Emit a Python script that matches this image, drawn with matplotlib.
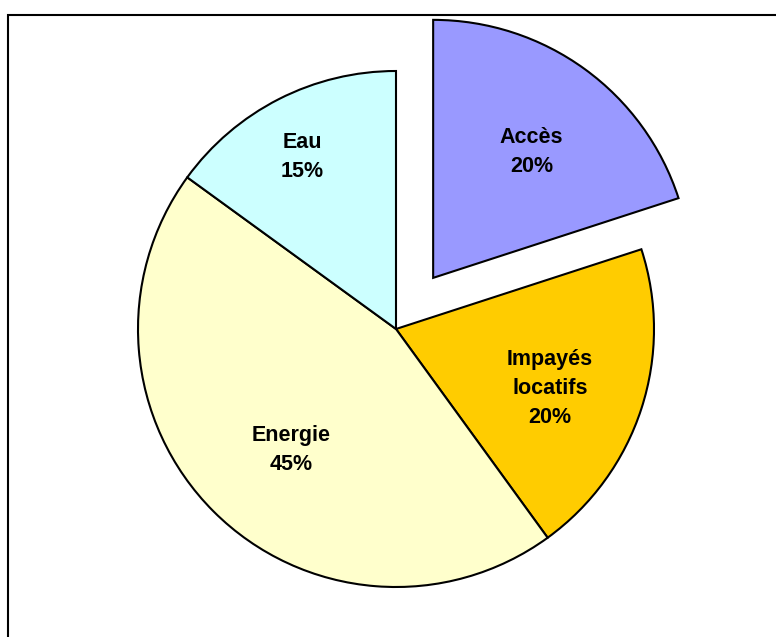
import matplotlib
matplotlib.use("Agg")
import matplotlib.pyplot as plt
from matplotlib.patches import Rectangle
import numpy as np

labels = ["Accès", "Impayés\nlocatifs", "Energie", "Eau"]
values = [20, 20, 45, 15]
colors = ["#9999FF", "#FFCC00", "#FFFFCC", "#CCFFFF"]
explode = [0.245, 0, 0, 0]
label_dist = [0.62, 0.64, 0.62, 0.76]
label_rot = [-2, -3, 4, 1.5]

W, H = 776, 637
fig = plt.figure(figsize=(W / 100, H / 100), dpi=100)
fig.patch.set_facecolor("white")

# frame
fig.patches.append(Rectangle((8 / W, -0.1), 1.2, 1 - 15 / H + 0.1, transform=fig.transFigure,
                             fill=False, edgecolor="black", linewidth=1.5))

ax = fig.add_axes([0, 0, 1, 1])
cx, cy, R = 396, 329, 258

wedges, _ = ax.pie(values, colors=colors, explode=explode, startangle=90, counterclock=False,
                   wedgeprops=dict(edgecolor="black", linewidth=1.5), radius=1, frame=True)
ax.set_xlim(-cx / R, (W - cx) / R)
ax.set_ylim(-(H - cy) / R, cy / R)
ax.set_aspect("auto")
ax.axis("off")

for w, lab, v, d, rot in zip(wedges, labels, values, label_dist, label_rot):
    ang = np.deg2rad((w.theta1 + w.theta2) / 2 + rot)
    x0, y0 = w.center
    ax.text(x0 + d * np.cos(ang), y0 + d * np.sin(ang), f"{lab}\n{v}%",
            ha="center", va="center", fontsize=15.5, fontweight="bold",
            family="Liberation Sans", linespacing=1.5)

fig.savefig("out.png", dpi=100)
